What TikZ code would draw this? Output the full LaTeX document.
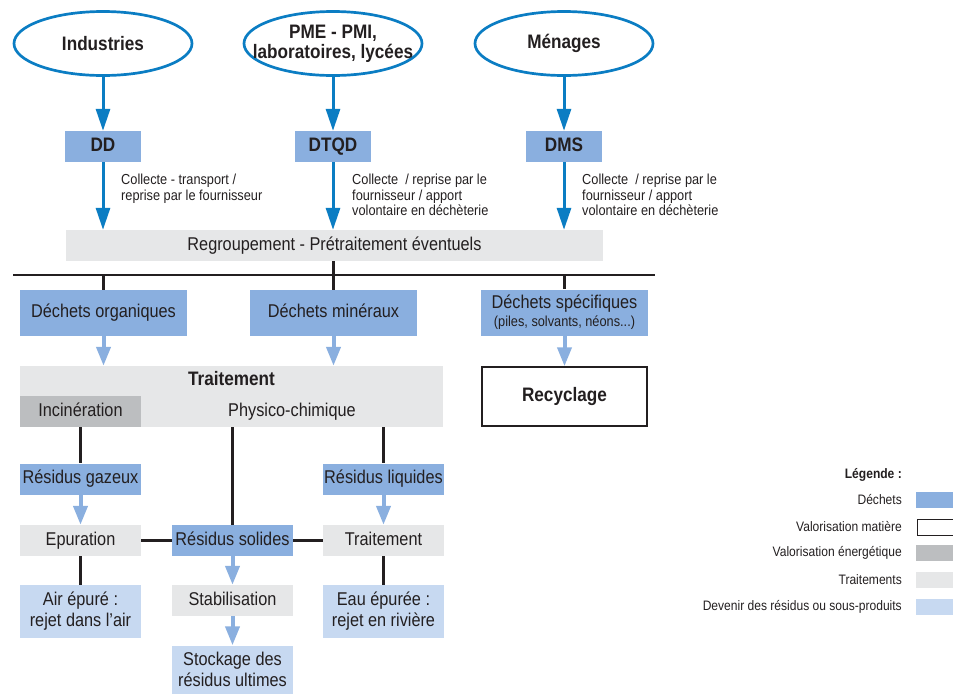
\documentclass[tikz,border=0pt]{standalone}
\usepackage{fontspec}
\setmainfont{Liberation Sans}[FakeStretch=0.88]
\usetikzlibrary{
    shapes,
    arrows.meta,
    positioning
}
\definecolor{flowblue}{HTML}{0B7DC3}
\definecolor{wastefill}{HTML}{8AAFDF}
\definecolor{fatefill}{HTML}{C7D9F1}
\definecolor{treatfill}{HTML}{E6E7E8}
\definecolor{energyfill}{HTML}{BCBEC0}
\definecolor{ink}{HTML}{231F20}
\newcommand{\fsBold}{\fontsize{19.5}{20}\selectfont\bfseries}
\newcommand{\fsMain}{\fontsize{18.5}{21}\selectfont}
\newcommand{\fsSmall}{\fontsize{14.5}{15.5}\selectfont}
\newcommand{\fsLegend}{\fontsize{13.7}{15}\selectfont}
\tikzset{
    source/.style={ellipse, draw=flowblue, line width=2.7pt, minimum width=178pt, minimum height=64pt, inner sep=0pt},
    srclabel/.style={align=center, font=\fsBold, text=ink, inner sep=0pt},
    oneline/.style={text height=13pt, text depth=4pt},
    cell/.style={minimum width=121pt, minimum height=31pt, inner sep=0pt, align=center, font=\fsMain, text=ink},
    family/.style={cell, fill=wastefill, minimum width=76pt, font=\fsBold, oneline},
    waste/.style={cell, fill=wastefill, oneline},
    treat/.style={cell, fill=treatfill, oneline},
    fate/.style={cell, fill=fatefill},
    note/.style={anchor=north west, inner sep=0pt, align=left, font=\fsSmall, text=ink},
    legtext/.style={anchor=east, inner sep=0pt, font=\fsLegend, text=ink},
    swatch/.style={minimum width=37pt, minimum height=16pt, inner sep=0pt},
    down/.style={flowblue, line width=3pt, -{Triangle[length=22pt, width=14pt]}},
    pale/.style={wastefill, line width=4pt, -{Triangle[length=19pt, width=14pt]}},
    tree/.style={ink, line width=2.5pt}
}
\begin{document}
\begin{tikzpicture}[x=1pt, y=-1pt]
    \useasboundingbox (0,0) rectangle (953,694);
    % producteurs
    \node[source, label={[srclabel]center:Industries}] (ind) at (103, 43.5) {};
    \node[source, label={[srclabel]center:{PME - PMI,\\laboratoires, lycées}}] (pme) at (333, 43.5) {};
    \node[source, label={[srclabel]center:Ménages}] (men) at (564, 43.5) {};
    \node[family] (dd) at (103, 146.5) {DD};
    \node[family] (dtqd) at (333, 146.5) {DTQD};
    \node[family] (dms) at (564, 146.5) {DMS};
    \node[note] (n1) at (121, 174) {Collecte - transport /\\reprise par le fournisseur};
    \node[note] (n2) at (352, 174) {Collecte \ / reprise par le\\fournisseur / apport\\volontaire en déchèterie};
    \node[note] (n3) at (582, 174) {Collecte \ / reprise par le\\fournisseur / apport\\volontaire en déchèterie};
    \node[treat, minimum width=537pt] (reg) at (334.5, 245.5) {Regroupement - Prétraitement éventuels};
    \coordinate (busW) at (13, 275);
    \coordinate (busE) at (655, 275);
    % types de dechets
    \node[waste, minimum width=167pt, minimum height=46pt] (org) at (103.5, 313) {Déchets organiques};
    \node[waste, minimum width=167pt, minimum height=46pt] (min) at (333.5, 313) {Déchets minéraux};
    \node[cell, fill=wastefill, minimum width=167pt, minimum height=46pt] (spec) at (564.5, 312.5) {Déchets spécifiques\\[-3pt]{\fsSmall (piles, solvants, néons...)}};
    \node[treat, minimum width=423pt, minimum height=30pt, font=\fsBold] (trt) at (231.5, 381) {Traitement};
    \node[waste, fill=energyfill] (inc) at (80.5, 411.5) {Incinération};
    \node[treat, minimum width=302pt] (phys) at (292, 411.5) {Physico-chimique};
    \node[draw=ink, line width=1.5pt, minimum width=165pt, minimum height=59pt, font=\fsBold, text=ink] (rec) at (564.5, 396.5) {Recyclage};
    % residus
    \node[waste] (rgaz) at (80.5, 479) {Résidus gazeux};
    \node[waste] (rliq) at (383.5, 479) {Résidus liquides};
    \node[treat] (epur) at (80.5, 540.5) {Epuration};
    \node[waste] (rsol) at (232.5, 540.5) {Résidus solides};
    \node[treat] (trt2) at (383.5, 540.5) {Traitement};
    \node[fate, minimum height=53pt] (air) at (80.5, 611.5) {Air épuré :\\rejet dans l’air};
    \node[treat] (stab) at (232.5, 600.5) {Stabilisation};
    \node[fate, minimum height=53pt] (eau) at (383.5, 611.5) {Eau épurée :\\rejet en rivière};
    \node[fate, minimum height=48pt] (stock) at (232.5, 669.5) {Stockage des\\résidus ultimes};
    % legende
    \node[legtext, font=\fsLegend\bfseries] (leg) at (902, 475) {Légende :};
    \node[legtext] (l1) at (902, 500) {Déchets};
    \node[legtext] (l2) at (902, 527) {Valorisation matière};
    \node[legtext] (l3) at (902, 553) {Valorisation énergétique};
    \node[legtext] (l4) at (902, 580) {Traitements};
    \node[legtext] (l5) at (902, 607) {Devenir des résidus ou sous-produits};
    \node[swatch, fill=wastefill] (s1) at (934.5, 500) {};
    \node[swatch, draw=ink, line width=1pt, minimum width=36pt] (s2) at (935, 527) {};
    \node[swatch, fill=energyfill] (s3) at (934.5, 553) {};
    \node[swatch, fill=treatfill] (s4) at (934.5, 580) {};
    \node[swatch, fill=fatefill] (s5) at (934.5, 607) {};
    % connecteurs
    \draw[down] (ind) -- (dd);
    \draw[down] (pme) -- (dtqd);
    \draw[down] (men) -- (dms);
    \draw[down] (dd) -- (dd |- reg.north);
    \draw[down] (dtqd) -- (dtqd |- reg.north);
    \draw[down] (dms) -- (dms |- reg.north);
    \draw[tree] (busW) -- (busE);
    \draw[tree] (reg.south -| min.north) -- (min.north);
    \draw[tree] (org.north |- busW) -- (org.north);
    \draw[tree] (spec.north |- busW) -- (spec.north);
    \draw[pale] (org) -- (org |- trt.north);
    \draw[pale] (min) -- (min |- trt.north);
    \draw[pale] (spec) -- (rec);
    \draw[tree] (inc) -- (rgaz);
    \draw[tree] (rsol.north |- phys.south) -- (rsol);
    \draw[tree] (rliq.north |- phys.south) -- (rliq);
    \draw[pale] (rgaz) -- (epur);
    \draw[pale] (rliq) -- (trt2);
    \draw[tree] (epur) -- (rsol);
    \draw[tree] (rsol) -- (trt2);
    \draw[tree] (epur) -- (air);
    \draw[tree] (trt2) -- (eau);
    \draw[pale] (rsol) -- (stab);
    \draw[pale] (stab) -- (stock);
\end{tikzpicture}
\end{document}
